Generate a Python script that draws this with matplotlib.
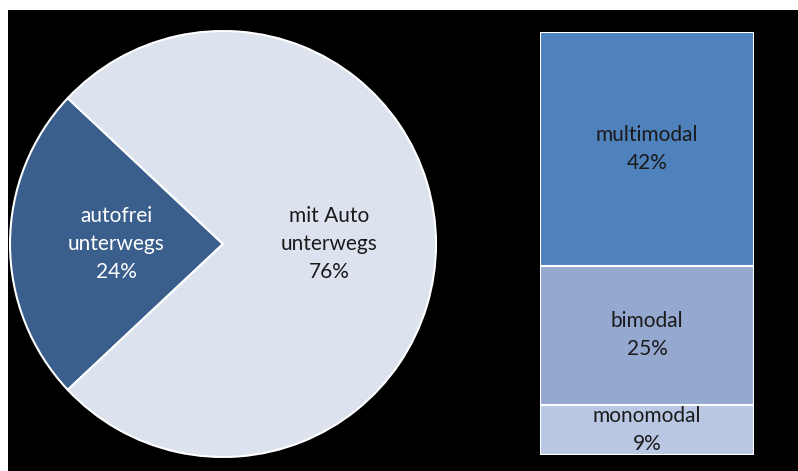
import numpy as np
import matplotlib.pyplot as plt
from matplotlib.patches import Rectangle

plt.rcParams['font.family'] = ['Lato', 'DejaVu Sans']

# Pie: car use overall
pie_labels = ['autofrei\nunterwegs', 'mit Auto\nunterwegs']
pie_values = [24, 76]
pie_colors = ['#3B5F8D', '#DCE3EF']
pie_text_colors = ['white', '#1a1a1a']

# Stacked bar: split of the car users
bar_labels = ['monomodal', 'bimodal', 'multimodal']
bar_values = [9, 25, 42]
bar_colors = ['#B9C7E2', '#95A9D0', '#4F81BD']

W, H = 798, 471
fig = plt.figure(figsize=(W / 100, H / 100), dpi=100, facecolor='white')

# black panel below the cut-off header strip
fig.patches.append(Rectangle((8 / W, 0), 1 - 8 / W, 461 / H,
                             transform=fig.transFigure, facecolor='black',
                             edgecolor='none', zorder=-5))

# pie axes: centre (223, 244) px, radius 213 px
cx, cy, r = 223, 244, 213
ax = fig.add_axes([(cx - r) / W, (H - cy - r) / H, 2 * r / W, 2 * r / H])
start = 180 - pie_values[0] / 100 * 180
wedges, _ = ax.pie(pie_values, colors=pie_colors, startangle=start,
                   counterclock=True, radius=1,
                   wedgeprops=dict(edgecolor='white', linewidth=1.5))
for w, lab, val, tc in zip(wedges, pie_labels, pie_values, pie_text_colors):
    mid = np.deg2rad((w.theta1 + w.theta2) / 2)
    ax.text(0.5 * np.cos(mid), 0.5 * np.sin(mid), f'{lab}\n{val}%',
            ha='center', va='center', fontsize=15, color=tc, linespacing=1.5)
ax.set_xlim(-1, 1)
ax.set_ylim(-1, 1)
ax.set_aspect('equal')
ax.axis('off')

# stacked bar axes: x 540..754 px, y 32..455 px
bx0, bx1, by0, by1 = 540, 754, 32, 455
bax = fig.add_axes([bx0 / W, (H - by1) / H, (bx1 - bx0) / W, (by1 - by0) / H])
bottom = 0
for lab, val, col in zip(bar_labels, bar_values, bar_colors):
    bax.bar(0, val, bottom=bottom, width=1, color=col, edgecolor='white',
            linewidth=1.5)
    bax.text(0, bottom + val / 2, f'{lab}\n{val}%', ha='center', va='center',
             fontsize=15, color='#1a1a1a', linespacing=1.5)
    bottom += val
bax.set_xlim(-0.5, 0.5)
bax.set_ylim(0, sum(bar_values))
bax.axis('off')

fig.savefig('out.png', dpi=100, facecolor=fig.get_facecolor())
